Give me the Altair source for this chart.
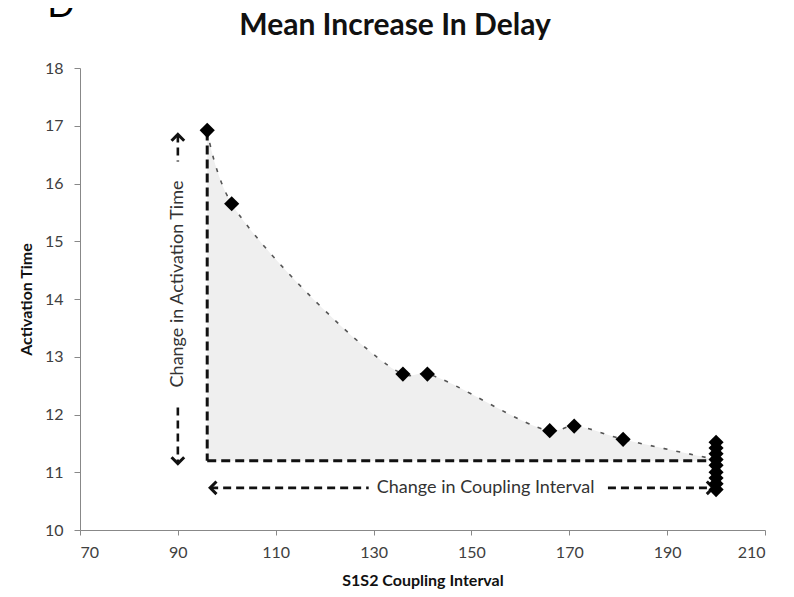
import altair as alt
import pandas as pd

# Data
point_x = [96, 101, 136, 141, 166, 171, 181, 200, 200, 200, 200, 200, 200, 200, 200, 200]
point_y = [16.92, 15.65, 12.70, 12.70, 11.72, 11.80, 11.57, 11.52, 11.42, 11.32, 11.22, 11.12, 11.00, 10.90, 10.80, 10.70]

# smoothed dashed line through the mean values
trend_x = [96, 101, 136, 141, 166, 171, 181, 200]
trend_y = [16.92, 15.65, 12.70, 12.70, 11.72, 11.80, 11.57, 11.22]
base_y = 11.2

# guide lines (heavy dashed): vertical at first x, horizontal at base
guide_seg = ["v", "v", "h", "h"]
guide_x = [96, 96, 96, 200]
guide_y = [16.9, 11.2, 11.2, 11.2]

# arrow shafts
arrow_seg = ["vt", "vt", "vb", "vb", "hl", "hl", "hr", "hr"]
arrow_x = [90, 90, 90, 90, 96.6, 129.0, 177.9, 199.4]
arrow_y = [16.85, 16.38, 12.12, 11.15, 10.73, 10.73, 10.73, 10.73]

head_x = [90, 90, 96.6, 199.4]
head_y = [16.85, 11.15, 10.73, 10.73]
head_shape = [
    "M-1,1L0,0L1,1",
    "M-1,-1L0,0L1,-1",
    "M1,-1L0,0L1,1",
    "M-1,-1L0,0L-1,1",
]

label_text = ["Change in Activation Time", "Change in Coupling Interval"]
label_x = [90, 152.9]
label_y = [14.26, 10.73]
label_angle = [270, 0]

FONT = "Lato"

xs = alt.Scale(domain=[70, 210], nice=False, zero=False)
ys = alt.Scale(domain=[10, 18], nice=False, zero=False)

trend_df = pd.DataFrame({"x": trend_x, "y": trend_y, "base": [base_y] * len(trend_x)})
pts_df = pd.DataFrame({"x": point_x, "y": point_y})
guide_df = pd.DataFrame({"seg": guide_seg, "x": guide_x, "y": guide_y})
arrow_df = pd.DataFrame({"seg": arrow_seg, "x": arrow_x, "y": arrow_y})

x_axis = alt.Axis(values=[70, 90, 110, 130, 150, 170, 190, 210], grid=False,
                  title="S1S2 Coupling Interval", labelFont=FONT, labelFontSize=16,
                  labelColor="#404040", titleFont=FONT, titleFontSize=16,
                  titleFontWeight="bold", titleColor="#111", domainColor="#888",
                  tickColor="#888", tickSize=5, labelPadding=9, titlePadding=12,
                  format="d")
y_axis = alt.Axis(values=list(range(10, 19)), grid=False, title="Activation Time",
                  labelFont=FONT, labelFontSize=16, labelColor="#404040",
                  titleFont=FONT, titleFontSize=16, titleFontWeight="bold",
                  titleColor="#111", domainColor="#888", tickColor="#888",
                  tickSize=6, labelPadding=11, titlePadding=10, format="d")

area = alt.Chart(trend_df).mark_area(color="#efefef", opacity=1,
                                     interpolate="catmull-rom").encode(
    x=alt.X("x:Q", scale=xs, axis=x_axis),
    y=alt.Y("y:Q", scale=ys, axis=y_axis),
    y2="base:Q",
)

trend = alt.Chart(trend_df).mark_line(color="#555555", strokeWidth=1.6,
                                      strokeDash=[4, 9],
                                      interpolate="catmull-rom").encode(
    x=alt.X("x:Q", scale=xs), y=alt.Y("y:Q", scale=ys))

guides = alt.Chart(guide_df).mark_line(color="#111111", strokeWidth=3,
                                       strokeDash=[9, 5]).encode(
    x=alt.X("x:Q", scale=xs), y=alt.Y("y:Q", scale=ys), detail="seg:N")

arrows = alt.Chart(arrow_df).mark_line(color="#111111", strokeWidth=2.6,
                                       strokeDash=[8, 5]).encode(
    x=alt.X("x:Q", scale=xs), y=alt.Y("y:Q", scale=ys), detail="seg:N")

heads = []
for hx, hy, hs in zip(head_x, head_y, head_shape):
    heads.append(
        alt.Chart(pd.DataFrame({"x": [hx], "y": [hy]})).mark_point(
            shape=hs, filled=False, color="#111111", strokeWidth=3, size=160,
            opacity=1).encode(x=alt.X("x:Q", scale=xs), y=alt.Y("y:Q", scale=ys)))

points = alt.Chart(pts_df).mark_point(shape="diamond", filled=True, color="#000000",
                                      size=230, opacity=1).encode(
    x=alt.X("x:Q", scale=xs), y=alt.Y("y:Q", scale=ys))

labels = []
for t, lx, ly, la in zip(label_text, label_x, label_y, label_angle):
    labels.append(
        alt.Chart(pd.DataFrame({"t": [t], "x": [lx], "y": [ly]})).mark_text(
            font=FONT, fontSize=18, color="#333333", angle=la, align="center",
            baseline="middle").encode(x=alt.X("x:Q", scale=xs),
                                      y=alt.Y("y:Q", scale=ys), text="t:N"))

title_mark = alt.Chart(pd.DataFrame({"t": ["Mean Increase In Delay"]})).mark_text(
    font=FONT, fontSize=30, fontWeight="bold", color="#111111", align="center",
    baseline="alphabetic").encode(x=alt.value(315), y=alt.value(-33), text="t:N")

panel_letter = alt.Chart(pd.DataFrame({"t": ["D"]})).mark_text(
    font=FONT, fontSize=36, color="#000000", align="center",
    baseline="alphabetic").encode(x=alt.value(-19), y=alt.value(-51), text="t:N")

chart = alt.layer(area, trend, guides, arrows, *heads, points, *labels,
                  title_mark, panel_letter).properties(
    width=685, height=462,
    autosize=alt.AutoSizeParams(type="none"),
    padding={"left": 72, "top": 60, "right": 20, "bottom": 67},
).configure_view(stroke=None)

chart.save("out.html", embed_options={"renderer": "svg", "actions": False})
